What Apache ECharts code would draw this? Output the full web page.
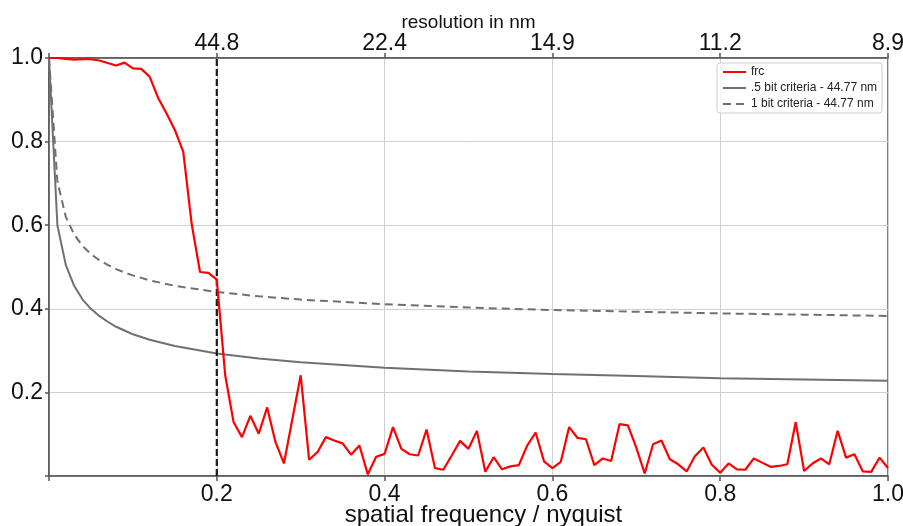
<!DOCTYPE html>
<html><head><meta charset="utf-8">
<script src="https://cdn.jsdelivr.net/npm/echarts@6/dist/echarts.min.js"></script>
<style>html,body{margin:0;padding:0;background:#fff}#c{width:903px;height:526px}</style>
</head><body><div id="c"></div>
<script>
const freqStep = 0.01;
const frcValues = [1.000,1.000,0.998,0.996,0.997,0.997,0.994,0.988,0.982,0.989,
0.975,0.974,0.955,0.905,0.868,0.828,0.776,0.604,0.488,0.486,
0.470,0.241,0.129,0.093,0.144,0.101,0.164,0.081,0.030,0.135,
0.241,0.039,0.057,0.093,0.085,0.078,0.051,0.073,0.004,0.046,
0.053,0.117,0.065,0.052,0.049,0.111,0.019,0.015,0.049,0.084,
0.065,0.108,0.010,0.045,0.016,0.023,0.026,0.073,0.104,0.035,
0.019,0.034,0.117,0.091,0.088,0.026,0.042,0.036,0.124,0.121,
0.068,0.006,0.076,0.085,0.040,0.028,0.011,0.048,0.068,0.027,
0.008,0.030,0.016,0.015,0.042,0.032,0.022,0.024,0.028,0.129,
0.012,0.030,0.042,0.028,0.108,0.044,0.052,0.011,0.010,0.044,0.019];
const thrX = [0,0.01,0.02,0.03,0.04,0.05,0.06,0.07,0.08,0.09,0.1,0.12,0.15,0.2,0.25,0.3,0.4,0.5,0.6,0.7,0.8,0.9,1.0];
const halfBit = [1.0,0.600,0.505,0.455,0.422,0.400,0.383,0.369,0.357,0.348,0.339,0.326,0.311,0.293,0.281,0.272,0.259,0.250,0.244,0.239,0.234,0.231,0.228];
const oneBit = [1.0,0.705,0.620,0.578,0.550,0.531,0.516,0.505,0.495,0.487,0.480,0.468,0.455,0.440,0.430,0.422,0.411,0.403,0.397,0.393,0.389,0.386,0.383];
const cutoffX = [0.2, 0.2];
const cutoffY = [0, 1];
const topTicks = [0.2, 0.4, 0.6, 0.8, 1.0];
const topLabels = ['44.8', '22.4', '14.9', '11.2', '8.9'];
const seriesNames = ['frc', '.5 bit criteria - 44.77 nm', '1 bit criteria - 44.77 nm'];

const FONT = "'Liberation Sans', Arial, sans-serif";
const frcData = frcValues.map((v, i) => [i * freqStep, v]);
const halfData = thrX.map((x, i) => [x, halfBit[i]]);
const oneData = thrX.map((x, i) => [x, oneBit[i]]);
const cutData = cutoffX.map((x, i) => [x, cutoffY[i]]);

const chart = echarts.init(document.getElementById('c'), null, {renderer: 'canvas'});
const axisLineStyle = {color: '#555', width: 1.5};
chart.setOption({
  animation: false,
  backgroundColor: '#fff',
  textStyle: {fontFamily: FONT},
  grid: {left: 49, right: 15, top: 58, bottom: 50, show: true, borderColor: '#555', borderWidth: 1.5, backgroundColor: 'transparent', outerBoundsMode: 'none', containLabel: false},
  legend: {
    data: seriesNames, orient: 'vertical', left: 717, top: 63,
    padding: [3, 5], itemWidth: 23, itemHeight: 12, itemGap: 4,
    itemStyle: {opacity: 0, borderWidth: 0},
    backgroundColor: 'rgba(255,255,255,0.85)', borderColor: '#ccc', borderWidth: 1, borderRadius: 3,
    textStyle: {fontSize: 12, color: '#222', fontFamily: FONT}
  },
  xAxis: [{
    type: 'value', position: 'bottom', min: 0, max: 1, interval: 0.2,
    name: 'spatial frequency / nyquist', nameLocation: 'middle', nameGap: 27, nameMoveOverlap: false,
    nameTextStyle: {fontSize: 24, color: '#111', fontFamily: FONT, padding: [0, 0, 0, 30]},
    axisLine: {show: true, lineStyle: axisLineStyle},
    axisTick: {show: true, length: 5, lineStyle: {color: '#555', width: 1.5}},
    axisLabel: {fontSize: 23, color: '#111', margin: 7, fontFamily: FONT,
      formatter: v => (v === 0 ? '' : v.toFixed(1))},
    splitLine: {show: true, lineStyle: {color: '#d0d0d0', width: 1}}
  }, {
    type: 'value', position: 'top', min: 0, max: 1, interval: 0.2,
    name: 'resolution in nm', nameLocation: 'middle', nameGap: 26, nameMoveOverlap: false,
    nameTextStyle: {fontSize: 19, color: '#111', fontFamily: FONT},
    axisLine: {show: true, lineStyle: axisLineStyle},
    axisTick: {show: true, length: 5, lineStyle: {color: '#555', width: 1.5}},
    axisLabel: {fontSize: 23, color: '#111', margin: 3, fontFamily: FONT,
      formatter: v => { const k = topTicks.findIndex(t => Math.abs(t - v) < 1e-6); return k < 0 ? '' : topLabels[k]; }},
    splitLine: {show: false}
  }],
  yAxis: {
    type: 'value', min: 0, max: 1, interval: 0.2,
    axisLine: {show: true, lineStyle: axisLineStyle},
    axisTick: {show: true, length: 4, lineStyle: {color: '#555', width: 1.5}},
    axisLabel: {fontSize: 23, color: '#111', margin: 6, fontFamily: FONT,
      formatter: v => (v === 0 ? '' : v.toFixed(1))},
    splitLine: {show: true, lineStyle: {color: '#d0d0d0', width: 1}}
  },
  series: [
    {name: seriesNames[1], type: 'line', data: halfData, symbol: 'none', smooth: false,
      lineStyle: {color: '#707070', width: 2}, itemStyle: {color: '#707070'}, z: 2},
    {name: seriesNames[2], type: 'line', data: oneData, symbol: 'none', smooth: false,
      lineStyle: {color: '#707070', width: 2, type: [8, 5]}, itemStyle: {color: '#707070'}, z: 2},
    {name: 'cutoff', type: 'line', data: cutData, symbol: 'none',
      lineStyle: {color: '#1a1a1a', width: 2.2, type: [7, 3]}, z: 3},
    {name: seriesNames[0], type: 'line', data: frcData, symbol: 'none', smooth: false,
      lineStyle: {color: '#ff0000', width: 2.2}, itemStyle: {color: '#ff0000'}, z: 4}
  ]
});
</script></body></html>
